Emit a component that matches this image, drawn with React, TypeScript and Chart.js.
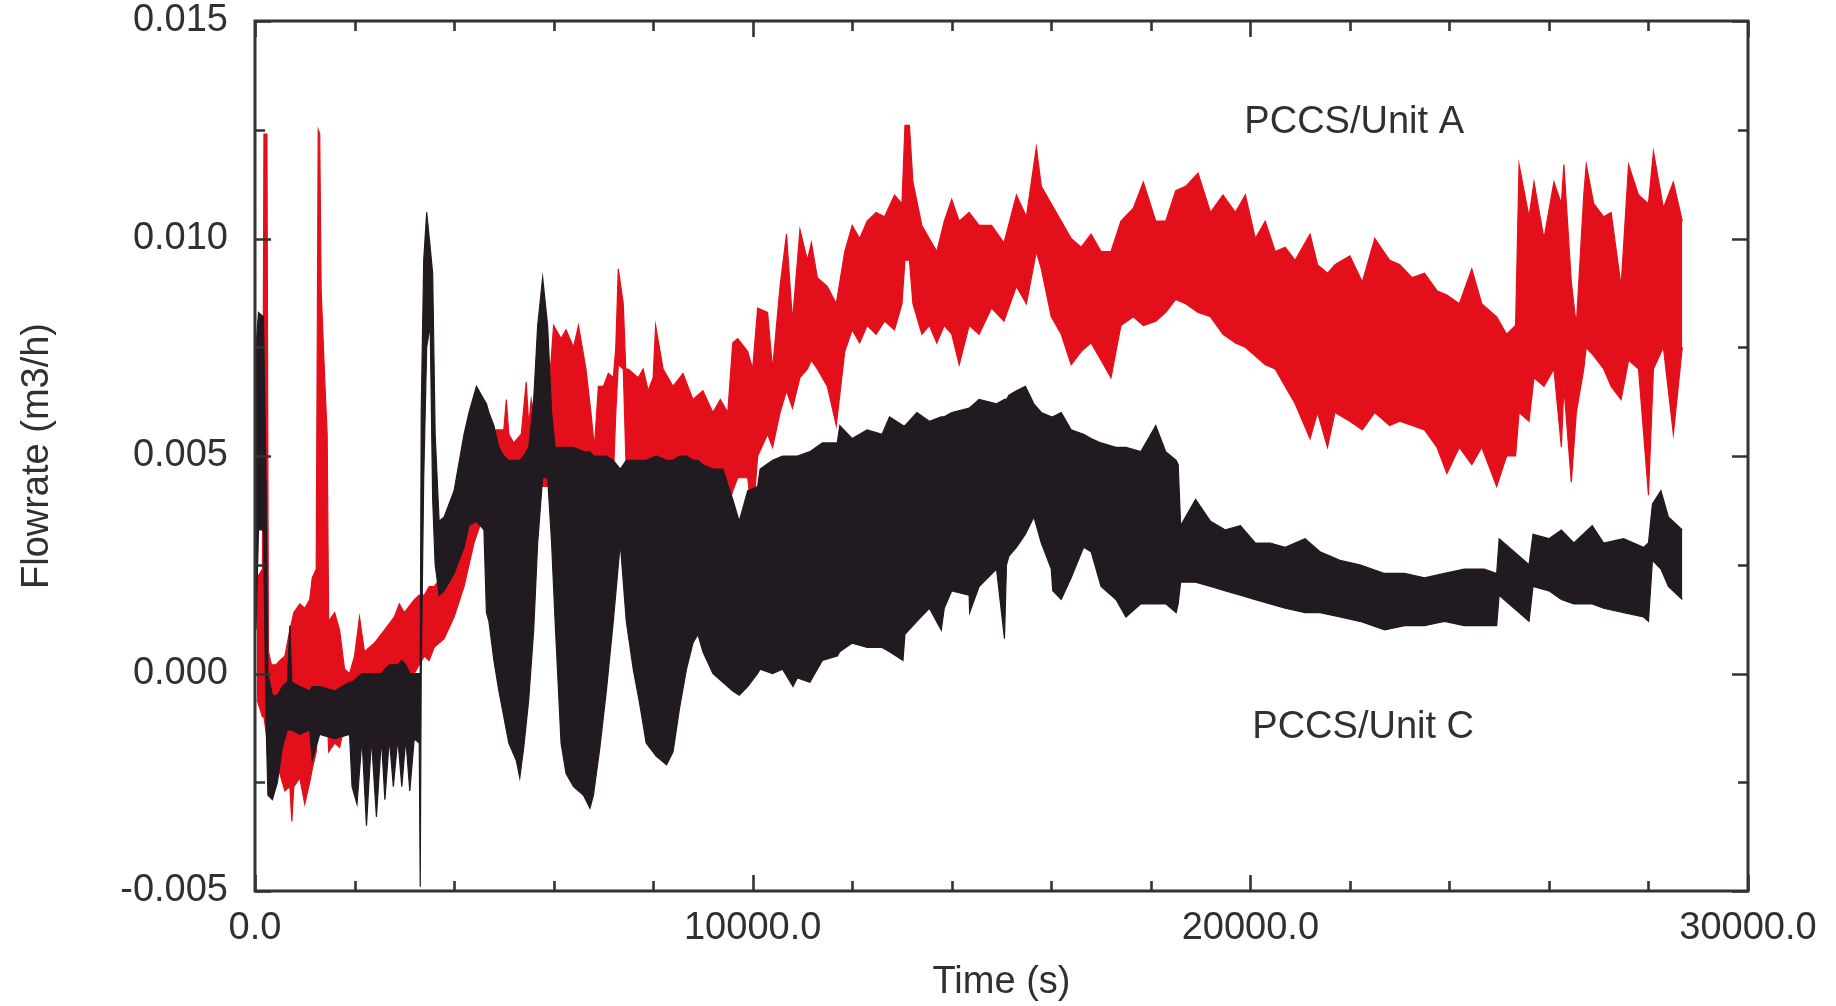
import React, { useEffect, useRef } from "react";
import { Chart, registerables } from "chart.js";

Chart.register(...registerables);

// ---- PCCS/Unit A (red): time (s), upper and lower envelope of the oscillating flowrate (m3/h)
const unitATime = [
  40, 150, 180, 240, 270, 330, 420, 500, 600, 700,
  740, 780, 900, 1000, 1100, 1150, 1230, 1270, 1300, 1330,
  1400, 1450, 1480, 1600, 1700, 1800, 1900, 2000, 2100, 2200,
  2400, 2600, 2800, 2900, 3000, 3200, 3300, 3400, 3500, 3600,
  3800, 4000, 4200, 4400, 4520, 4600, 4800, 5000, 5050, 5100,
  5200, 5350, 5450, 5500, 5550, 5650, 5750, 5850, 5950, 6000,
  6150, 6250, 6400, 6500, 6650, 6750, 6820, 6900, 7000, 7100,
  7200, 7250, 7300, 7400, 7450, 7500, 7700, 7800, 7900, 8000,
  8050, 8200, 8400, 8600, 8800, 9000, 9200, 9350, 9500, 9600,
  9700, 9900, 10000, 10100, 10300, 10400, 10550, 10680, 10800, 10950,
  11100, 11180, 11300, 11500, 11680, 11850, 12000, 12150, 12300, 12480,
  12650, 12850, 13000, 13060, 13150, 13220, 13400, 13550, 13700, 13850,
  14000, 14150, 14350, 14550, 14800, 15050, 15300, 15500, 15700, 15800,
  16000, 16200, 16400, 16600, 16800, 17000, 17200, 17400, 17650, 17850,
  18100, 18300, 18500, 18700, 18950, 19200, 19450, 19700, 19900, 20100,
  20300, 20500, 20700, 20900, 21200, 21350, 21550, 21700, 22000, 22250,
  22500, 22800, 23000, 23250, 23500, 23750, 23950, 24200, 24450, 24650,
  24950, 25150, 25330, 25400, 25600, 25700, 25900, 26100, 26250, 26300,
  26450, 26550, 26700, 26750, 26900, 27100, 27250, 27450, 27600, 27800,
  28000, 28100, 28300, 28500, 28680,
];
const unitAHigh = [
  0.0022, 0.0024, 0.0124, 0.0124, 0.0005, 0.0002, 0.0002, 0.0003, 0.0004, 0.0010,
  0.0012, 0.0014, 0.0016, 0.0015, 0.0017, 0.0022, 0.0024, 0.0125, 0.0124, 0.0088,
  0.0068, 0.0055, 0.0012, 0.0014, 0.0010, 0.0001, 0.0000, 0.0004, 0.0013, 0.0005,
  0.0007, 0.0010, 0.0013, 0.0016, 0.0014, 0.0017, 0.0018, 0.0018, 0.0020, 0.0020,
  0.0023, 0.0029, 0.0036, 0.0045, 0.0050, 0.0055, 0.0056, 0.0056, 0.0063, 0.0055,
  0.0053, 0.0055, 0.0067, 0.0057, 0.0063, 0.0057, 0.0058, 0.0060, 0.0072, 0.0080,
  0.0077, 0.0079, 0.0075, 0.0080, 0.0070, 0.0060, 0.0052, 0.0066, 0.0066, 0.0069,
  0.0068, 0.0075, 0.0093, 0.0085, 0.0070, 0.0070, 0.0068, 0.0070, 0.0065, 0.0068,
  0.0080, 0.0070, 0.0066, 0.0069, 0.0063, 0.0065, 0.0060, 0.0063, 0.0060, 0.0076,
  0.0077, 0.0074, 0.0070, 0.0084, 0.0083, 0.0070, 0.0089, 0.0101, 0.0081, 0.0102,
  0.0095, 0.0099, 0.0091, 0.0089, 0.0085, 0.0097, 0.0103, 0.0100, 0.0104, 0.0106,
  0.0105, 0.0110, 0.0108, 0.0126, 0.0126, 0.0113, 0.0103, 0.0100, 0.0097, 0.0104,
  0.0109, 0.0104, 0.0106, 0.0103, 0.0103, 0.0099, 0.0110, 0.0105, 0.0121, 0.0112,
  0.0108, 0.0104, 0.0100, 0.0098, 0.0101, 0.0097, 0.0097, 0.0104, 0.0107, 0.0113,
  0.0104, 0.0104, 0.0111, 0.0112, 0.0115, 0.0106, 0.0110, 0.0106, 0.0110, 0.0100,
  0.0104, 0.0097, 0.0098, 0.0095, 0.0101, 0.0094, 0.0092, 0.0094, 0.0096, 0.0090,
  0.0100, 0.0095, 0.0094, 0.0091, 0.0092, 0.0088, 0.0087, 0.0085, 0.0093, 0.0085,
  0.0082, 0.0078, 0.0080, 0.0117, 0.0105, 0.0113, 0.0100, 0.0113, 0.0108, 0.0117,
  0.0090, 0.0080, 0.0110, 0.0117, 0.0108, 0.0105, 0.0106, 0.0089, 0.0117, 0.0110,
  0.0108, 0.0120, 0.0107, 0.0113, 0.0104,
];
const unitALow = [
  -0.0006, -0.0010, -0.0010, -0.0015, -0.0026, -0.0027, -0.0021, -0.0023, -0.0027, -0.0026,
  -0.0034, -0.0026, -0.0024, -0.0030, -0.0025, -0.0022, -0.0018, -0.0010, -0.0008, -0.0005,
  -0.0005, -0.0008, -0.0018, -0.0016, -0.0017, -0.0012, -0.0009, -0.0007, -0.0006, -0.0005,
  -0.0004, -0.0003, -0.0002, -0.0002, -0.0001, 0.0000, 0.0002, 0.0004, 0.0003, 0.0006,
  0.0008, 0.0013, 0.0020, 0.0030, 0.0034, 0.0037, 0.0042, 0.0043, 0.0043, 0.0043,
  0.0044, 0.0044, 0.0045, 0.0045, 0.0045, 0.0044, 0.0043, 0.0043, 0.0043, 0.0044,
  0.0044, 0.0045, 0.0045, 0.0045, 0.0043, 0.0035, 0.0030, 0.0032, 0.0035, 0.0040,
  0.0045, 0.0060, 0.0071, 0.0070, 0.0050, 0.0040, 0.0030, 0.0029, 0.0040, 0.0045,
  0.0045, 0.0045, 0.0046, 0.0046, 0.0045, 0.0043, 0.0040, 0.0037, 0.0038, 0.0042,
  0.0045, 0.0045, 0.0035, 0.0050, 0.0055, 0.0052, 0.0060, 0.0065, 0.0061, 0.0068,
  0.0070, 0.0072, 0.0070, 0.0066, 0.0057, 0.0074, 0.0079, 0.0076, 0.0080, 0.0078,
  0.0081, 0.0079, 0.0085, 0.0095, 0.0095, 0.0085, 0.0078, 0.0080, 0.0076, 0.0080,
  0.0078, 0.0071, 0.0080, 0.0078, 0.0084, 0.0081, 0.0089, 0.0085, 0.0097, 0.0093,
  0.0082, 0.0078, 0.0071, 0.0074, 0.0076, 0.0072, 0.0068, 0.0080, 0.0082, 0.0080,
  0.0081, 0.0083, 0.0086, 0.0085, 0.0083, 0.0082, 0.0078, 0.0076, 0.0075, 0.0073,
  0.0071, 0.0070, 0.0066, 0.0062, 0.0054, 0.0060, 0.0052, 0.0060, 0.0058, 0.0056,
  0.0060, 0.0057, 0.0058, 0.0057, 0.0056, 0.0052, 0.0046, 0.0052, 0.0048, 0.0052,
  0.0043, 0.0050, 0.0050, 0.0060, 0.0058, 0.0068, 0.0066, 0.0070, 0.0052, 0.0066,
  0.0044, 0.0060, 0.0070, 0.0075, 0.0073, 0.0070, 0.0066, 0.0063, 0.0072, 0.0070,
  0.0041, 0.0070, 0.0075, 0.0055, 0.0075,
];

// ---- PCCS/Unit C (black): time (s), upper and lower envelope
const unitCTime = [
  20, 70, 170, 220, 260, 350, 450, 550, 650, 700,
  740, 900, 1100, 1150, 1300, 1600, 1900, 1950, 2050, 2150,
  2240, 2340, 2440, 2540, 2610, 2700, 2780, 2870, 2950, 3030,
  3110, 3200, 3300, 3320, 3340, 3390, 3450, 3520, 3570, 3620,
  3700, 3800, 4000, 4200, 4300, 4450, 4600, 4650, 4700, 4800,
  4900, 5000, 5100, 5250, 5320, 5400, 5500, 5600, 5680, 5780,
  5880, 5960, 6030, 6150, 6250, 6400, 6600, 6730, 6800, 6930,
  7060, 7200, 7340, 7460, 7600, 7730, 7860, 8060, 8270, 8400,
  8530, 8670, 8800, 8900, 9000, 9200, 9400, 9600, 9730, 9900,
  10100, 10150, 10400, 10600, 10810, 10900, 11150, 11400, 11700, 11750,
  12000, 12300, 12600, 12750, 13020, 13060, 13300, 13550, 13790, 13850,
  14000, 14350, 14360, 14550, 14900, 15060, 15100, 15150, 15300, 15480,
  15650, 15800, 16000, 16030, 16200, 16400, 16650, 16800, 17000, 17300,
  17500, 17800, 18100, 18300, 18510, 18550, 18600, 18900, 19200, 19500,
  19800, 20100, 20400, 20700, 21100, 21400, 21800, 22200, 22700, 23100,
  23500, 23900, 24300, 24700, 24950, 25000, 25300, 25600, 25680, 26000,
  26250, 26500, 26870, 27100, 27500, 27900, 28000, 28080, 28250, 28400,
  28680,
];
const unitCHigh = [
  0.0075, 0.0083, 0.0082, 0.0045, 0.0000, -0.0005, -0.0005, -0.0003, -0.0002, 0.0011,
  -0.0002, -0.0003, -0.0004, -0.0003, -0.0003, -0.0004, -0.0002, -0.0002, -0.0001, 0.0000,
  0.0000, 0.0000, 0.0000, 0.0000, 0.0001, 0.0002, 0.0002, 0.0002, 0.0003, 0.0002,
  0.0000, 0.0000, 0.0000, 0.0000, 0.0060, 0.0095, 0.0106, 0.0098, 0.0092, 0.0055,
  0.0035, 0.0036, 0.0042, 0.0055, 0.0060, 0.0066, 0.0063, 0.0062, 0.0060, 0.0057,
  0.0052, 0.0050, 0.0049, 0.0049, 0.0049, 0.0050, 0.0052, 0.0063, 0.0080, 0.0091,
  0.0080, 0.0060, 0.0052, 0.0052, 0.0052, 0.0052, 0.0051, 0.0051, 0.0050, 0.0050,
  0.0050, 0.0049, 0.0047, 0.0049, 0.0049, 0.0049, 0.0049, 0.0050, 0.0049, 0.0049,
  0.0050, 0.0050, 0.0049, 0.0049, 0.0048, 0.0047, 0.0047, 0.0040, 0.0035, 0.0042,
  0.0043, 0.0047, 0.0049, 0.0050, 0.0050, 0.0050, 0.0051, 0.0053, 0.0053, 0.0057,
  0.0054, 0.0056, 0.0055, 0.0059, 0.0057, 0.0057, 0.0060, 0.0058, 0.0059, 0.0059,
  0.0060, 0.0061, 0.0061, 0.0063, 0.0062, 0.0063, 0.0063, 0.0064, 0.0065, 0.0066,
  0.0062, 0.0060, 0.0059, 0.0059, 0.0060, 0.0056, 0.0055, 0.0054, 0.0053, 0.0052,
  0.0052, 0.0051, 0.0057, 0.0051, 0.0049, 0.0048, 0.0034, 0.0040, 0.0035, 0.0033,
  0.0034, 0.0030, 0.0030, 0.0029, 0.0031, 0.0028, 0.0026, 0.0025, 0.0023, 0.0023,
  0.0022, 0.0023, 0.0024, 0.0024, 0.0023, 0.0031, 0.0028, 0.0025, 0.0032, 0.0031,
  0.0033, 0.0030, 0.0034, 0.0030, 0.0031, 0.0029, 0.0030, 0.0039, 0.0042, 0.0036,
  0.0033,
];
const unitCLow = [
  0.0010, 0.0033, 0.0033, -0.0010, -0.0028, -0.0029, -0.0025, -0.0017, -0.0013, -0.0013,
  -0.0013, -0.0014, -0.0013, -0.0020, -0.0014, -0.0015, -0.0014, -0.0026, -0.0030, -0.0015,
  -0.0035, -0.0015, -0.0033, -0.0015, -0.0029, -0.0015, -0.0026, -0.0015, -0.0026, -0.0015,
  -0.0027, -0.0015, -0.0016, -0.0049, 0.0000, 0.0045, 0.0075, 0.0080, 0.0040, 0.0025,
  0.0018, 0.0019, 0.0023, 0.0029, 0.0034, 0.0035, 0.0033, 0.0014, 0.0012, 0.0003,
  -0.0004, -0.0010, -0.0016, -0.0020, -0.0024, -0.0017, -0.0006, 0.0010, 0.0030, 0.0045,
  0.0045, 0.0030, 0.0012, -0.0016, -0.0023, -0.0026, -0.0028, -0.0031, -0.0028, -0.0017,
  -0.0004, 0.0012, 0.0030, 0.0012, 0.0001, -0.0007, -0.0016, -0.0019, -0.0021, -0.0018,
  -0.0008, 0.0001, 0.0007, 0.0009, 0.0005, 0.0000, -0.0002, -0.0004, -0.0005, -0.0003,
  0.0000, 0.0001, 0.0000, 0.0001, -0.0003, -0.0001, -0.0002, 0.0003, 0.0004, 0.0005,
  0.0007, 0.0006, 0.0006, 0.0005, 0.0003, 0.0009, 0.0012, 0.0015, 0.0010, 0.0015,
  0.0019, 0.0018, 0.0014, 0.0020, 0.0024, 0.0008, 0.0025, 0.0027, 0.0029, 0.0032,
  0.0036, 0.0030, 0.0024, 0.0019, 0.0017, 0.0022, 0.0029, 0.0028, 0.0020, 0.0017,
  0.0013, 0.0016, 0.0016, 0.0016, 0.0014, 0.0016, 0.0021, 0.0021, 0.0020, 0.0019,
  0.0018, 0.0017, 0.0016, 0.0015, 0.0014, 0.0014, 0.0013, 0.0012, 0.0010, 0.0011,
  0.0011, 0.0012, 0.0011, 0.0011, 0.0011, 0.0018, 0.0015, 0.0012, 0.0020, 0.0019,
  0.0017, 0.0016, 0.0016, 0.0015, 0.0014, 0.0013, 0.0012, 0.0026, 0.0024, 0.0020,
  0.0017,
];

// ---- axes
const xTickValues = [0, 10000, 20000, 30000];
const yTickValues = [-0.005, 0.0, 0.005, 0.01, 0.015];
const xMinorStep = 2000;
const yMinorStep = 0.0025;
const xAxisTitle = "Time (s)";
const yAxisTitle = "Flowrate (m3/h)";

// ---- in-plot series labels (time, flowrate of text baseline start)
const seriesLabelText = ["PCCS/Unit A", "PCCS/Unit C"];
const seriesLabelTime = [19880, 20040];
const seriesLabelValue = [0.01243, -0.00148];

const RED = "#e3101c";
const BLACK = "#221a21";
const TEXT = "#303030";
const FONT = "'Liberation Sans', Arial, Helvetica, sans-serif";

const frameAndLabels = {
  id: "frameAndLabels",
  afterDatasetsDraw(chart: any) {
    const { ctx, chartArea, scales } = chart;
    const { left, right, top, bottom } = chartArea;
    const xs = scales.x;
    const ys = scales.y;
    ctx.save();
    ctx.strokeStyle = "#333333";
    ctx.lineWidth = 3;
    ctx.strokeRect(left, top, right - left, bottom - top);
    ctx.lineWidth = 2.6;
    ctx.beginPath();
    for (let t = xs.min; t <= xs.max + 1e-6; t += xMinorStep) {
      const px = Math.round(xs.getPixelForValue(t)) + 0.5;
      const major = xTickValues.some((v) => Math.abs(v - t) < 1e-6);
      const len = major ? 16 : 10;
      ctx.moveTo(px, bottom);
      ctx.lineTo(px, bottom - len);
      ctx.moveTo(px, top);
      ctx.lineTo(px, top + len);
    }
    const nY = Math.round((ys.max - ys.min) / yMinorStep);
    for (let k = 0; k <= nY; k++) {
      const v = ys.min + k * yMinorStep;
      const py = Math.round(ys.getPixelForValue(v)) + 0.5;
      const major = yTickValues.some((w) => Math.abs(w - v) < 1e-9);
      const len = major ? 16 : 10;
      ctx.moveTo(left, py);
      ctx.lineTo(left + len, py);
      ctx.moveTo(right, py);
      ctx.lineTo(right - len, py);
    }
    ctx.stroke();

    ctx.fillStyle = TEXT;
    ctx.font = `38px ${FONT}`;
    ctx.textAlign = "left";
    ctx.textBaseline = "alphabetic";
    seriesLabelText.forEach((s, i) => {
      ctx.fillText(s, xs.getPixelForValue(seriesLabelTime[i]), ys.getPixelForValue(seriesLabelValue[i]));
    });
    ctx.restore();
  },
};

export default function App() {
  const ref = useRef<HTMLCanvasElement>(null);
  useEffect(() => {
    const canvas = ref.current;
    if (!canvas) return;
    const pts = (ts: number[], ys: number[]) => ts.map((t, i) => ({ x: t, y: ys[i] }));
    const lineBase = { pointRadius: 0, borderWidth: 1.2, tension: 0, spanGaps: false };
    const chart = new Chart(canvas, {
      type: "line",
      data: {
        datasets: [
          { ...lineBase, label: "PCCS/Unit C low", data: pts(unitCTime, unitCLow), borderColor: BLACK, backgroundColor: BLACK, fill: false },
          { ...lineBase, label: "PCCS/Unit C", data: pts(unitCTime, unitCHigh), borderColor: BLACK, backgroundColor: BLACK, fill: "-1" },
          { ...lineBase, label: "PCCS/Unit A low", data: pts(unitATime, unitALow), borderColor: RED, backgroundColor: RED, fill: false },
          { ...lineBase, label: "PCCS/Unit A", data: pts(unitATime, unitAHigh), borderColor: RED, backgroundColor: RED, fill: "-1" },
        ],
      } as any,
      options: {
        animation: false,
        responsive: false,
        devicePixelRatio: 1,
        events: [],
        layout: { padding: { left: 0, right: 88, top: 21, bottom: 0 } },
        plugins: {
          legend: { display: false },
          tooltip: { enabled: false },
        },
        scales: {
          x: {
            type: "linear",
            min: 0,
            max: 30000,
            afterBuildTicks: (s: any) => {
              s.ticks = xTickValues.map((v) => ({ value: v }));
            },
            afterFit: (s: any) => {
              s.height = 115;
              s.paddingLeft = 0;
              s.paddingRight = 0;
            },
            ticks: {
              autoSkip: false,
              maxRotation: 0,
              padding: 15,
              color: TEXT,
              font: { size: 38, family: FONT },
              callback: (v: any) => Number(v).toFixed(1),
            },
            grid: { display: false, drawTicks: false },
            border: { display: false },
            title: {
              display: true,
              text: xAxisTitle,
              color: TEXT,
              font: { size: 38, family: FONT },
              padding: { top: 0, bottom: 1 },
            },
          },
          y: {
            type: "linear",
            min: -0.005,
            max: 0.015,
            afterBuildTicks: (s: any) => {
              s.ticks = yTickValues.map((v) => ({ value: v }));
            },
            afterFit: (s: any) => {
              s.width = 255;
              s.paddingTop = 0;
              s.paddingBottom = 0;
            },
            ticks: {
              autoSkip: false,
              padding: 27,
              color: TEXT,
              font: { size: 38, family: FONT, lineHeight: 1 },
              callback: (v: any) => {
                const n = Math.abs(Number(v)) < 1e-12 ? 0 : Number(v);
                return n.toFixed(3);
              },
            },
            grid: { display: false, drawTicks: false },
            border: { display: false },
            title: {
              display: true,
              text: yAxisTitle,
              color: TEXT,
              font: { size: 38, family: FONT },
              padding: { top: 15, bottom: 0 },
            },
          },
        },
      } as any,
      plugins: [frameAndLabels],
    });
    return () => chart.destroy();
  }, []);
  return (
    <div style={{ position: "fixed", left: 0, top: 0, width: 1836, height: 1006, background: "#ffffff" }}>
      <canvas ref={ref} width={1836} height={1006} style={{ display: "block", width: 1836, height: 1006 }} />
    </div>
  );
}
